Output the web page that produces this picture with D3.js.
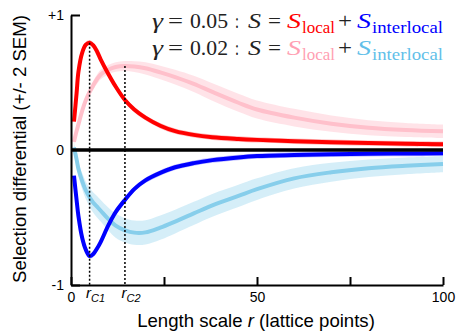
<!DOCTYPE html>
<html>
<head>
<meta charset="utf-8">
<script src="https://cdn.jsdelivr.net/npm/d3@7"></script>
<style>
  body { margin: 0; background: #fff; }
  svg { display: block; }
  .sans { font-family: "Liberation Sans", Arial, Helvetica, sans-serif; }
  .serif { font-family: "Liberation Serif", "DejaVu Serif", "Times New Roman", serif; }
</style>
</head>
<body>
<svg id="chart" width="457" height="331"></svg>
<script>
// Length scale r (lattice points) at which the selection differentials were sampled
const lengthScale = [0.8, 1.5, 2, 3, 4, 5, 6, 7, 8, 10, 12, 14.5, 17, 20, 24, 28, 33, 38, 45, 50, 60, 70, 80, 90, 100];

// gamma = 0.05
const localG05 = [0.21, 0.42, 0.58, 0.72, 0.78, 0.795, 0.775, 0.73, 0.67, 0.565, 0.47, 0.37, 0.30, 0.24, 0.18, 0.14, 0.112, 0.095, 0.082, 0.075, 0.065, 0.057, 0.051, 0.046, 0.042];
const interG05 = [-0.19, -0.37, -0.49, -0.65, -0.74, -0.785, -0.77, -0.73, -0.68, -0.56, -0.46, -0.37, -0.29, -0.225, -0.17, -0.128, -0.097, -0.075, -0.055, -0.045, -0.037, -0.032, -0.028, -0.026, -0.024];
const semLocalG05 = [0.015, 0.018, 0.018, 0.02, 0.02, 0.02, 0.02, 0.02, 0.02, 0.02, 0.02, 0.02, 0.02, 0.02, 0.02, 0.02, 0.02, 0.02, 0.02, 0.02, 0.02, 0.02, 0.02, 0.02, 0.02];
const semInterG05 = [0.015, 0.018, 0.018, 0.02, 0.02, 0.02, 0.02, 0.02, 0.02, 0.02, 0.02, 0.02, 0.02, 0.02, 0.02, 0.02, 0.02, 0.02, 0.02, 0.02, 0.02, 0.02, 0.02, 0.02, 0.02];

// gamma = 0.02
const localG02 = [0.06, 0.14, 0.19, 0.29, 0.37, 0.43, 0.48, 0.525, 0.56, 0.595, 0.615, 0.622, 0.618, 0.605, 0.575, 0.54, 0.49, 0.43, 0.35, 0.30, 0.24, 0.195, 0.165, 0.148, 0.138];
const interG02 = [0.02, -0.07, -0.14, -0.23, -0.30, -0.35, -0.39, -0.42, -0.45, -0.51, -0.56, -0.595, -0.612, -0.61, -0.575, -0.53, -0.47, -0.41, -0.34, -0.29, -0.21, -0.165, -0.135, -0.117, -0.104];
const semLocalG02 = [0.02, 0.025, 0.025, 0.03, 0.03, 0.03, 0.033, 0.035, 0.035, 0.035, 0.035, 0.037, 0.04, 0.045, 0.05, 0.055, 0.06, 0.065, 0.067, 0.067, 0.065, 0.06, 0.055, 0.052, 0.05];
const semInterG02 = [0.03, 0.04, 0.05, 0.06, 0.065, 0.07, 0.075, 0.08, 0.08, 0.085, 0.09, 0.09, 0.09, 0.09, 0.09, 0.088, 0.086, 0.085, 0.083, 0.08, 0.075, 0.07, 0.065, 0.062, 0.06];

// Axis ticks
const xTicks = [0, 25, 50, 75, 100];
const xTickLabels = ["0", "", "50", "", "100"];
const yTicks = [-1, 0, 1];
const yTickLabels = ["-1", "0", "+1"];

const svg = d3.select("#chart");
const x = d3.scaleLinear().domain([0, 100]).range([71, 443]);
const y = d3.scaleLinear().domain([-1, 1]).range([285, 15]);

const curve = d3.curveCatmullRom.alpha(0.5);

function drawSeries(mean, sem, color, bandOpacity) {
  const pts = lengthScale.map((r, i) => ({ r, m: mean[i], s: sem[i] }));
  svg.append("path")
    .datum(pts)
    .attr("fill", color)
    .attr("fill-opacity", bandOpacity)
    .attr("d", d3.area().curve(curve)
      .x(d => x(d.r)).y0(d => y(d.m - d.s)).y1(d => y(d.m + d.s)));
  svg.append("path")
    .datum(pts)
    .attr("fill", "none")
    .attr("stroke", color)
    .attr("stroke-width", 4)
    .attr("d", d3.line().curve(curve).x(d => x(d.r)).y(d => y(d.m)));
}

// gamma = 0.02 underneath, gamma = 0.05 on top
drawSeries(interG02, semInterG02, "#87ceeb", 0.35);
drawSeries(localG02, semLocalG02, "#ffc0cb", 0.45);
drawSeries(interG05, semInterG05, "#0000ff", 0.25);
drawSeries(localG05, semLocalG05, "#ff0000", 0.25);

// Zero line
svg.append("line")
  .attr("x1", x(0)).attr("x2", x(100))
  .attr("y1", y(0)).attr("y2", y(0))
  .attr("stroke", "#000").attr("stroke-width", 3.5);

// Characteristic length scales: peaks of the local differentials
const rC1 = lengthScale[d3.maxIndex(localG05)];
const rC2 = lengthScale[d3.maxIndex(localG02)];
const markers = [
  { r: rC1, top: d3.max(localG05), sub: "C1" },
  { r: rC2, top: d3.max(localG02), sub: "C2" }
];
svg.selectAll(".rc-line").data(markers).enter().append("line")
  .attr("class", "rc-line")
  .attr("x1", d => x(d.r)).attr("x2", d => x(d.r))
  .attr("y1", d => y(d.top)).attr("y2", y(-1))
  .attr("stroke", "#000").attr("stroke-width", 1.5)
  .attr("stroke-dasharray", "2,2");

// Axes
const xAxis = d3.axisBottom(x)
  .tickValues(xTicks)
  .tickFormat((d, i) => xTickLabels[i])
  .tickSizeInner(-8).tickSizeOuter(0).tickPadding(7);
const gx = svg.append("g").attr("transform", `translate(0,${y(-1)})`).call(xAxis);

const yAxis = d3.axisLeft(y)
  .tickValues(yTicks)
  .tickFormat((d, i) => yTickLabels[i])
  .tickSizeInner(-9).tickSizeOuter(0).tickPadding(7);
const gy = svg.append("g").attr("transform", `translate(${x(0)},0)`).call(yAxis);

[gx, gy].forEach(g => {
  g.attr("font-family", null).attr("font-size", null);
  g.select(".domain").attr("stroke", "#000").attr("stroke-width", 2);
  g.selectAll(".tick line").attr("stroke", "#000").attr("stroke-width", 2);
  g.selectAll(".tick text")
    .attr("class", "sans")
    .style("font-size", "14px")
    .attr("fill", "#000");
});
gy.selectAll(".tick text").attr("dy", "0.3em");
gy.selectAll(".tick").filter(d => d === 0).select("line").remove();

// r_C labels under the axis
const rcLabels = svg.selectAll(".rc-label").data(markers).enter().append("text")
  .attr("class", "rc-label sans")
  .attr("x", d => x(d.r) - 3.5)
  .attr("y", y(-1) + 12.5)
  .style("font-style", "italic")
  .style("font-size", "15px")
  .attr("fill", "#000");
rcLabels.append("tspan").text("r");
rcLabels.append("tspan").attr("dy", 4).style("font-size", "11px").text(d => d.sub);

// Axis titles
const xt = svg.append("text")
  .attr("class", "sans")
  .attr("x", 256).attr("y", 327)
  .attr("text-anchor", "middle")
  .style("font-size", "18.6px")
  .attr("fill", "#000");
xt.append("tspan").text("Length scale ");
xt.append("tspan").style("font-style", "italic").text("r");
xt.append("tspan").text(" (lattice points)");

svg.append("text")
  .attr("class", "sans")
  .attr("transform", "translate(26,149) rotate(-90)")
  .attr("text-anchor", "middle")
  .style("font-size", "18.6px")
  .attr("fill", "#000")
  .text("Selection differential (+/- 2 SEM)");

// Legend: gamma = ... : S = S_local + S_interlocal
const legendRows = [
  { gamma: "0.05", local: "#ff0000", inter: "#0000ff", baseline: 28 },
  { gamma: "0.02", local: "#ff9fb3", inter: "#62bfe9", baseline: 55 }
];
// horizontal layout of the formula pieces (offset from the row start, width)
const legendPieces = [
  { t: "\u03b3", it: true, at: 0, w: 11 },
  { t: "=", at: 16, w: 15 },
  { t: "gamma", at: 38, w: 38 },
  { t: ":", at: 83, w: 4 },
  { t: "S", it: true, at: 96, w: 13 },
  { t: "=", at: 116, w: 13 },
  { t: "S", it: true, at: 135, w: 14, c: "local" },
  { t: "local", sub: true, at: 150, w: 33, c: "local" },
  { t: "+", at: 186, w: 14 },
  { t: "S", it: true, at: 205, w: 14, c: "inter" },
  { t: "interlocal", sub: true, at: 220, w: 71, c: "inter" }
];
const legendLeft = 152;
legendRows.forEach(row => {
  const g = svg.append("g").attr("transform", `translate(${legendLeft},0)`);
  legendPieces.forEach(p => {
    g.append("text")
      .attr("class", "serif")
      .attr("x", p.at)
      .attr("y", row.baseline + (p.sub ? 4.5 : 0))
      .attr("textLength", p.w)
      .attr("lengthAdjust", "spacingAndGlyphs")
      .style("font-size", p.sub ? "17px" : "21px")
      .style("font-style", p.it ? "italic" : "normal")
      .attr("fill", p.c === "local" ? row.local : p.c === "inter" ? row.inter : "#222")
      .text(p.t === "gamma" ? row.gamma : p.t);
  });
});
</script>
</body>
</html>
